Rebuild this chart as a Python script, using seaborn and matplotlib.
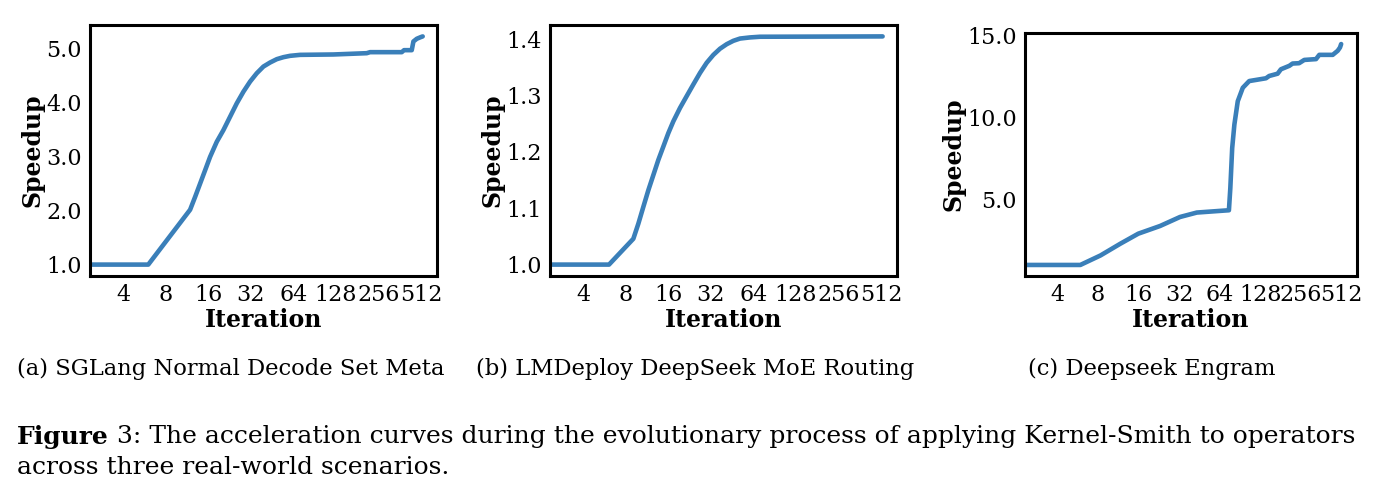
import numpy as np
import pandas as pd
import seaborn as sns
import matplotlib.pyplot as plt
from matplotlib.ticker import FixedLocator, FixedFormatter, FormatStrFormatter, NullLocator

# -------------------------------------------------------------------
# Data (iteration, speedup)
# -------------------------------------------------------------------
iter_a = [2.32, 6.0, 11.87, 12.87, 13.97, 15.16, 16.44, 18.33, 20.43, 22.78,
          25.40, 28.33, 31.56, 35.19, 39.23, 43.74, 48.78, 54.38, 60.63, 71.35,
          122.9, 211.6, 223.4, 374.5, 389, 440.8, 453, 478.5, 510.6, 527]
speed_a = [1.0, 1.0, 2.017, 2.253, 2.501, 2.749, 2.997, 3.276, 3.493, 3.741,
           3.989, 4.206, 4.392, 4.547, 4.671, 4.746, 4.808, 4.845, 4.870, 4.888,
           4.895, 4.919, 4.938, 4.938, 4.975, 4.975, 5.136, 5.186, 5.217, 5.23]

iter_b = [2.32, 6.08, 9.04, 9.81, 10.64, 11.55, 12.53, 13.59, 14.75, 16.0,
          17.36, 19.36, 21.57, 24.05, 26.82, 29.90, 33.33, 37.17, 41.44, 46.19,
          51.5, 60.63, 71.35, 527]
speed_b = [1.0, 1.0, 1.0458, 1.0726, 1.1024, 1.1321, 1.1589, 1.1857, 1.2095,
           1.2333, 1.2542, 1.2780, 1.2988, 1.3196, 1.3400, 1.3580, 1.3720,
           1.3830, 1.3910, 1.3970, 1.4010, 1.4030, 1.4042, 1.4048]

iter_c = [2.32, 5.96, 8.4, 11.8, 16.0, 23.2, 32.6, 43.4, 64.0, 75.0, 76.8, 79.3,
          82.3, 87.2, 95.0, 106, 141, 149, 172, 182, 210, 222, 248, 271, 331,
          350, 440, 479, 498, 508]
speed_c = [1.0, 1.0, 1.58, 2.30, 2.91, 3.38, 3.93, 4.20, 4.30, 4.34, 5.68, 8.14,
           9.57, 11.0, 11.82, 12.23, 12.40, 12.54, 12.68, 12.95, 13.16, 13.30,
           13.32, 13.52, 13.57, 13.83, 13.83, 14.08, 14.28, 14.49]

x_ticks = [4, 8, 16, 32, 64, 128, 256, 512]
x_tick_labels = ["4", "8", "16", "32", "64", "128", "256", "512"]
y_ticks_a = [1.0, 2.0, 3.0, 4.0, 5.0]
y_ticks_b = [1.0, 1.1, 1.2, 1.3, 1.4]
y_ticks_c = [5.0, 10.0, 15.0]

sub_captions = ["(a) SGLang Normal Decode Set Meta",
                "(b) LMDeploy DeepSeek MoE Routing",
                "(c) Deepseek Engram"]
fig_caption_1 = " 3: The acceleration curves during the evolutionary process of applying Kernel-Smith to operators"
fig_caption_2 = "across three real-world scenarios."

# -------------------------------------------------------------------
# Style
# -------------------------------------------------------------------
sns.set_style("white")
plt.rcParams["font.family"] = ["DejaVu Serif"]
plt.rcParams["text.color"] = "black"
plt.rcParams["axes.labelcolor"] = "black"
plt.rcParams["xtick.color"] = "black"
plt.rcParams["ytick.color"] = "black"

line_color = "#3a7fb9"

fig = plt.figure(figsize=(13.87, 5.0), dpi=100)

panels = [
    (iter_a, speed_a, y_ticks_a, [0.0649, 0.448, 0.2502, 0.502]),
    (iter_b, speed_b, y_ticks_b, [0.3965, 0.448, 0.2502, 0.502]),
    (iter_c, speed_c, y_ticks_c, [0.7390, 0.448, 0.2394, 0.486]),
]

for xs, ys, yt, rect in panels:
    ax = fig.add_axes(rect)
    df = pd.DataFrame({"Iteration": xs, "Speedup": ys})
    sns.lineplot(data=df, x="Iteration", y="Speedup", ax=ax,
                 color=line_color, linewidth=3.3)
    ax.set_xscale("log", base=2)
    ax.set_xlim(2.32, 666)
    ax.xaxis.set_major_locator(FixedLocator(x_ticks))
    ax.xaxis.set_major_formatter(FixedFormatter(x_tick_labels))
    ax.xaxis.set_minor_locator(NullLocator())
    ax.yaxis.set_major_locator(FixedLocator(yt))
    ax.yaxis.set_major_formatter(FormatStrFormatter("%.1f"))
    ax.tick_params(axis="both", labelsize=16, length=0, pad=6)
    ax.set_xlabel("Iteration", fontsize=17, fontweight="bold", labelpad=1)
    ax.set_ylabel("Speedup", fontsize=17, fontweight="bold", labelpad=1)
    for s in ax.spines.values():
        s.set_color("black")
        s.set_linewidth(2.2)

# Sub-figure captions
cap_x = [17 / 1387, 476 / 1387, 1028 / 1387]
for cx, txt in zip(cap_x, sub_captions):
    fig.text(cx, 1 - 369 / 500, txt, fontsize=16.3, va="center", ha="left")

# Figure caption ("Figure" in bold)
renderer = fig.canvas.get_renderer()
t_bold = fig.text(17 / 1387, 1 - 437 / 500, "Figure", fontsize=18,
                  fontweight="bold", va="center", ha="left")
bb = t_bold.get_window_extent(renderer=renderer)
fig.text(bb.x1 / fig.bbox.width, 1 - 437 / 500, fig_caption_1, fontsize=18,
         va="center", ha="left")
fig.text(17 / 1387, 1 - 467 / 500, fig_caption_2, fontsize=18,
         va="center", ha="left")

fig.savefig("out.png", dpi=100)
